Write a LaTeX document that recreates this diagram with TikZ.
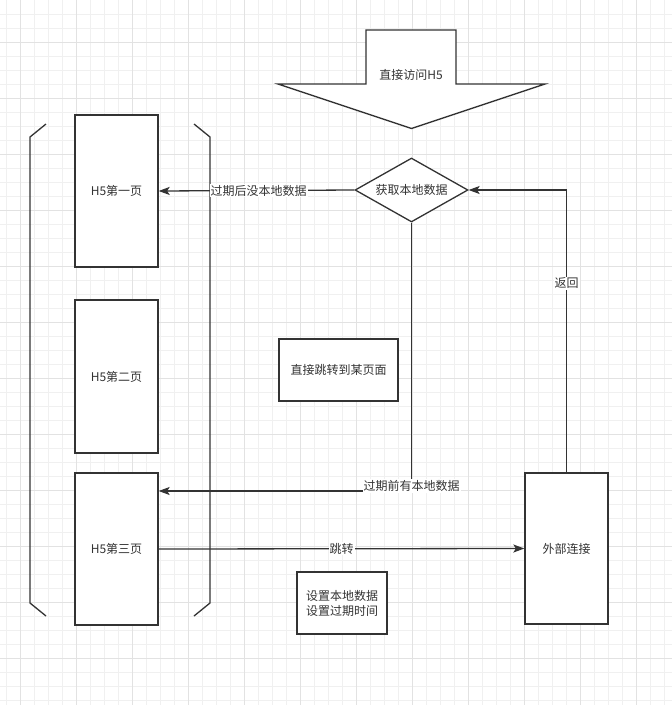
\documentclass[tikz,border=0pt]{standalone}
\usepackage{fontspec}
\newfontfamily\cjk{Noto Sans CJK SC}
\usetikzlibrary{shapes.geometric,arrows.meta}
\definecolor{ink}{HTML}{333333}
\definecolor{txt}{HTML}{333333}
\definecolor{gmin}{HTML}{F0F0F0}
\definecolor{gmaj}{HTML}{E2E2E2}
\begin{document}
\begin{tikzpicture}[x=1pt,y=-1pt,
  box/.style={draw=ink,line width=1.3pt,fill=white,inner sep=0pt,font=\cjk\fontsize{12}{15}\selectfont,text=txt,align=center},
  dia/.style={draw=ink,line width=1.3pt,fill=white,shape=diamond,aspect=1.77,inner sep=0pt,minimum width=113pt,minimum height=64pt,font=\cjk\fontsize{12}{15}\selectfont,text=txt},
  edge/.style={draw=ink,line width=1.3pt,-{Stealth[length=11pt,width=8pt,inset=2.5pt]}},
  lbl/.style={fill=white,inner sep=1pt,font=\cjk\fontsize{12}{15}\selectfont,text=txt},
  brk/.style={draw=ink,line width=1.3pt}]
\useasboundingbox (0,0) rectangle (672,705);
\fill[white] (0,0) rectangle (672,705);
% grid
\foreach \i in {0,...,47} \draw[gmin,line width=0.8pt] ({6.7+14*\i},0) -- ++(0,705);
\foreach \i in {1,...,50} \draw[gmin,line width=0.8pt] (0,{14*\i}) -- ++(672,0);
\foreach \i in {0,...,11} \draw[gmaj,line width=0.8pt] ({20.7+56*\i},0) -- ++(0,705);
\foreach \i in {0,...,11} \draw[gmaj,line width=0.8pt] (0,{42+56*\i}) -- ++(672,0);
% big arrow
\draw[ink,line width=1.3pt,fill=white] (366,30) -- (456,30) -- (456,84) -- (545,84) -- (411.5,128.5) -- (278,84) -- (366,84) -- cycle;
\node[lbl,fill=none] (visit) at (411,75) {直接访问H5};
% bracket
\draw[brk] (46,124) -- (30,137) -- (30,603) -- (46,616);
\draw[brk] (194,124) -- (210,137) -- (210,603) -- (194,616);
% nodes
\node[box,minimum width=83pt,minimum height=152pt] (p1) at (116.5,191) {H5第一页};
\node[box,minimum width=83pt,minimum height=153pt] (p2) at (116.5,376.5) {H5第二页};
\node[box,minimum width=83pt,minimum height=152pt] (p3) at (116.5,549) {H5第三页};
\node[box,minimum width=83pt,minimum height=151pt] (ext) at (566.5,548.5) {外部连接};
\node[box,minimum width=119pt,minimum height=62pt] (jump) at (338.5,370) {直接跳转到某页面};
\node[box,minimum width=90pt,minimum height=62pt] (set) at (342,603) {设置本地数据\\设置过期时间};
\node[dia] (dec) at (411.5,190) {获取本地数据};
% edges
\draw[edge] (dec.west) -- node[lbl,xshift=2pt]{过期后没本地数据} (p1.east);
\draw[edge] (dec.south) |- node[lbl,pos=0.5,yshift=5pt]{过期前有本地数据} ([yshift=58pt]p3.east);
\draw[edge] (p3.east) -- node[lbl]{跳转} (ext.west);
\draw[edge] (ext.north) |- node[lbl,pos=0.335]{返回} (dec.east);
\end{tikzpicture}
\end{document}
